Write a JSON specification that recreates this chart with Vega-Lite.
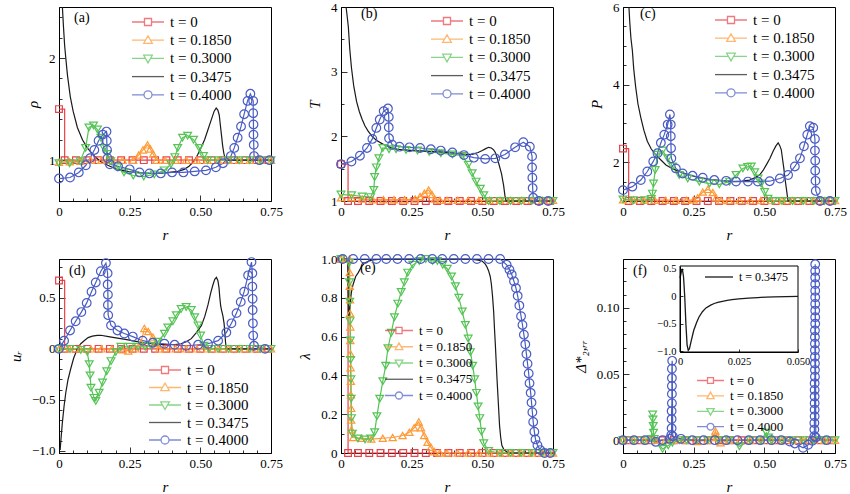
{
  "$schema": "https://vega.github.io/schema/vega-lite/v6.json",
  "background": "white",
  "padding": {"left": 7, "top": 0, "right": 4, "bottom": 0},
  "bounds": "flush",
  "spacing": {"row": 58, "column": 70},
  "columns": 3,
  "config": {
    "view": {"stroke": "black", "strokeWidth": 1},
    "font": "Liberation Serif",
    "title": {"font": "Liberation Serif", "fontSize": 14, "fontWeight": "normal", "color": "black", "anchor": "start", "frame": "group", "offset": 0},
    "axis": {"grid": false, "domainColor": "black", "domainWidth": 1, "tickColor": "black", "tickWidth": 0.8, "labelFont": "Liberation Serif", "labelFontSize": 13, "labelColor": "black", "labelPadding": 10, "labelOverlap": false, "labelBound": false, "labelFlush": false, "titleFont": "Liberation Serif", "titleFontSize": 15, "titleFontStyle": "italic", "titleFontWeight": "normal", "titleColor": "black"},
    "axisX": {"titlePadding": 6},
    "axisY": {"titlePadding": 8},
    "legend": {"padding": 0, "labelFont": "Liberation Serif", "labelColor": "black", "symbolStrokeWidth": 1.3, "labelOffset": 5}
  },
  "datasets": {
    "a": [
      {"s":"0","r":0,"v":1.5},{"s":"0","r":0.02,"v":1},{"s":"0","r":0.06,"v":1},{"s":"0","r":0.1,"v":1},{"s":"0","r":0.14,"v":1},{"s":"0","r":0.18,"v":1},{"s":"0","r":0.22,"v":1},{"s":"0","r":0.26,"v":1},{"s":"0","r":0.3,"v":1},{"s":"0","r":0.34,"v":1},{"s":"0","r":0.38,"v":1},{"s":"0","r":0.42,"v":1},{"s":"0","r":0.46,"v":1},{"s":"0","r":0.5,"v":1},{"s":"0","r":0.54,"v":1},{"s":"0","r":0.58,"v":1},{"s":"0","r":0.62,"v":1},{"s":"0","r":0.66,"v":1},{"s":"0","r":0.7,"v":1},{"s":"0","r":0.74,"v":1},
      {"s":"0.1850","r":0,"v":0.98},{"s":"0.1850","r":0.0375,"v":0.985},{"s":"0.1850","r":0.075,"v":0.99},{"s":"0.1850","r":0.1125,"v":1},{"s":"0.1850","r":0.15,"v":1},{"s":"0.1850","r":0.1875,"v":1},{"s":"0.1850","r":0.225,"v":1},{"s":"0.1850","r":0.2625,"v":1},{"s":"0.1850","r":0.282,"v":1.05},{"s":"0.1850","r":0.297,"v":1.1},{"s":"0.1850","r":0.313,"v":1.15},{"s":"0.1850","r":0.323,"v":1.11},{"s":"0.1850","r":0.333,"v":1.06},{"s":"0.1850","r":0.345,"v":1},{"s":"0.1850","r":0.375,"v":1},{"s":"0.1850","r":0.4125,"v":1},{"s":"0.1850","r":0.45,"v":1},{"s":"0.1850","r":0.4875,"v":1},{"s":"0.1850","r":0.525,"v":1},{"s":"0.1850","r":0.5625,"v":1},{"s":"0.1850","r":0.6,"v":1},{"s":"0.1850","r":0.6375,"v":1},{"s":"0.1850","r":0.675,"v":1},{"s":"0.1850","r":0.7125,"v":1},{"s":"0.1850","r":0.75,"v":1},
      {"s":"0.3000","r":0,"v":0.97},{"s":"0.3000","r":0.0375,"v":0.97},{"s":"0.3000","r":0.075,"v":0.99},{"s":"0.3000","r":0.094,"v":1.12},{"s":"0.3000","r":0.106,"v":1.32},{"s":"0.3000","r":0.122,"v":1.34},{"s":"0.3000","r":0.136,"v":1.3},{"s":"0.3000","r":0.148,"v":1.22},{"s":"0.3000","r":0.159,"v":1.12},{"s":"0.3000","r":0.171,"v":1.06},{"s":"0.3000","r":0.183,"v":0.99},{"s":"0.3000","r":0.207,"v":0.93},{"s":"0.3000","r":0.23,"v":0.88},{"s":"0.3000","r":0.263,"v":0.85},{"s":"0.3000","r":0.3,"v":0.84},{"s":"0.3000","r":0.337,"v":0.86},{"s":"0.3000","r":0.372,"v":0.9},{"s":"0.3000","r":0.396,"v":0.96},{"s":"0.3000","r":0.41,"v":1.03},{"s":"0.3000","r":0.42,"v":1.12},{"s":"0.3000","r":0.437,"v":1.22},{"s":"0.3000","r":0.455,"v":1.24},{"s":"0.3000","r":0.476,"v":1.2},{"s":"0.3000","r":0.496,"v":1.12},{"s":"0.3000","r":0.511,"v":1.04},{"s":"0.3000","r":0.526,"v":1},{"s":"0.3000","r":0.5625,"v":1},{"s":"0.3000","r":0.6,"v":1},{"s":"0.3000","r":0.6375,"v":1},{"s":"0.3000","r":0.675,"v":1},{"s":"0.3000","r":0.7125,"v":1},{"s":"0.3000","r":0.75,"v":1},
      {"s":"0.3475","r":0.012,"v":2.5},{"s":"0.3475","r":0.016,"v":2.3},{"s":"0.3475","r":0.02,"v":2.12},{"s":"0.3475","r":0.024,"v":2},{"s":"0.3475","r":0.03,"v":1.83},{"s":"0.3475","r":0.04,"v":1.62},{"s":"0.3475","r":0.05,"v":1.48},{"s":"0.3475","r":0.065,"v":1.32},{"s":"0.3475","r":0.083,"v":1.2},{"s":"0.3475","r":0.1,"v":1.12},{"s":"0.3475","r":0.125,"v":1.04},{"s":"0.3475","r":0.15,"v":0.98},{"s":"0.3475","r":0.18,"v":0.94},{"s":"0.3475","r":0.207,"v":0.91},{"s":"0.3475","r":0.24,"v":0.89},{"s":"0.3475","r":0.27,"v":0.88},{"s":"0.3475","r":0.3,"v":0.87},{"s":"0.3475","r":0.33,"v":0.87},{"s":"0.3475","r":0.36,"v":0.87},{"s":"0.3475","r":0.39,"v":0.88},{"s":"0.3475","r":0.42,"v":0.89},{"s":"0.3475","r":0.443,"v":0.91},{"s":"0.3475","r":0.46,"v":0.94},{"s":"0.3475","r":0.478,"v":0.99},{"s":"0.3475","r":0.49,"v":1.05},{"s":"0.3475","r":0.502,"v":1.12},{"s":"0.3475","r":0.515,"v":1.2},{"s":"0.3475","r":0.526,"v":1.29},{"s":"0.3475","r":0.538,"v":1.39},{"s":"0.3475","r":0.549,"v":1.48},{"s":"0.3475","r":0.556,"v":1.51},{"s":"0.3475","r":0.562,"v":1.49},{"s":"0.3475","r":0.567,"v":1.44},{"s":"0.3475","r":0.571,"v":1.34},{"s":"0.3475","r":0.575,"v":1.24},{"s":"0.3475","r":0.579,"v":1.14},{"s":"0.3475","r":0.583,"v":1.07},{"s":"0.3475","r":0.587,"v":1.02},{"s":"0.3475","r":0.59,"v":1},{"s":"0.3475","r":0.75,"v":1},
      {"s":"0.4000","r":0,"v":0.82},{"s":"0.4000","r":0.039,"v":0.83},{"s":"0.4000","r":0.07,"v":0.88},{"s":"0.4000","r":0.095,"v":0.95},{"s":"0.4000","r":0.11,"v":1.02},{"s":"0.4000","r":0.125,"v":1.1},{"s":"0.4000","r":0.14,"v":1.19},{"s":"0.4000","r":0.155,"v":1.25},{"s":"0.4000","r":0.168,"v":1.28},{"s":"0.4000","r":0.169,"v":1.19},{"s":"0.4000","r":0.17,"v":1.1},{"s":"0.4000","r":0.172,"v":1.02},{"s":"0.4000","r":0.18,"v":0.96},{"s":"0.4000","r":0.209,"v":0.94},{"s":"0.4000","r":0.25,"v":0.91},{"s":"0.4000","r":0.285,"v":0.88},{"s":"0.4000","r":0.32,"v":0.87},{"s":"0.4000","r":0.36,"v":0.87},{"s":"0.4000","r":0.4,"v":0.88},{"s":"0.4000","r":0.44,"v":0.88},{"s":"0.4000","r":0.48,"v":0.89},{"s":"0.4000","r":0.52,"v":0.9},{"s":"0.4000","r":0.555,"v":0.93},{"s":"0.4000","r":0.58,"v":0.97},{"s":"0.4000","r":0.608,"v":1.04},{"s":"0.4000","r":0.62,"v":1.12},{"s":"0.4000","r":0.632,"v":1.22},{"s":"0.4000","r":0.644,"v":1.33},{"s":"0.4000","r":0.655,"v":1.45},{"s":"0.4000","r":0.667,"v":1.58},{"s":"0.4000","r":0.677,"v":1.65},{"s":"0.4000","r":0.687,"v":1.58},{"s":"0.4000","r":0.687,"v":1.46},{"s":"0.4000","r":0.688,"v":1.35},{"s":"0.4000","r":0.688,"v":1.25},{"s":"0.4000","r":0.689,"v":1.15},{"s":"0.4000","r":0.69,"v":1.04},{"s":"0.4000","r":0.709,"v":1},{"s":"0.4000","r":0.745,"v":1}
    ],
    "b": [
      {"s":"0","r":0,"v":1.57},{"s":"0","r":0.025,"v":1},{"s":"0","r":0.06,"v":1},{"s":"0","r":0.1,"v":1},{"s":"0","r":0.14,"v":1},{"s":"0","r":0.18,"v":1},{"s":"0","r":0.22,"v":1},{"s":"0","r":0.26,"v":1},{"s":"0","r":0.3,"v":1},{"s":"0","r":0.34,"v":1},{"s":"0","r":0.38,"v":1},{"s":"0","r":0.42,"v":1},{"s":"0","r":0.46,"v":1},{"s":"0","r":0.5,"v":1},{"s":"0","r":0.54,"v":1},{"s":"0","r":0.58,"v":1},{"s":"0","r":0.62,"v":1},{"s":"0","r":0.66,"v":1},{"s":"0","r":0.7,"v":1},{"s":"0","r":0.74,"v":1},
      {"s":"0.1850","r":0,"v":1.05},{"s":"0.1850","r":0.0375,"v":1.05},{"s":"0.1850","r":0.075,"v":1.03},{"s":"0.1850","r":0.1125,"v":1.02},{"s":"0.1850","r":0.15,"v":1.02},{"s":"0.1850","r":0.1875,"v":1.02},{"s":"0.1850","r":0.225,"v":1.02},{"s":"0.1850","r":0.2625,"v":1.03},{"s":"0.1850","r":0.28,"v":1.07},{"s":"0.1850","r":0.295,"v":1.12},{"s":"0.1850","r":0.31,"v":1.17},{"s":"0.1850","r":0.322,"v":1.1},{"s":"0.1850","r":0.332,"v":1.03},{"s":"0.1850","r":0.35,"v":1.01},{"s":"0.1850","r":0.375,"v":1.01},{"s":"0.1850","r":0.4125,"v":1.01},{"s":"0.1850","r":0.45,"v":1.01},{"s":"0.1850","r":0.4875,"v":1.01},{"s":"0.1850","r":0.525,"v":1.01},{"s":"0.1850","r":0.5625,"v":1.01},{"s":"0.1850","r":0.6,"v":1.01},{"s":"0.1850","r":0.6375,"v":1.01},{"s":"0.1850","r":0.675,"v":1.01},{"s":"0.1850","r":0.7125,"v":1.01},{"s":"0.1850","r":0.75,"v":1.01},
      {"s":"0.3000","r":0,"v":1.1},{"s":"0.3000","r":0.0375,"v":1.09},{"s":"0.3000","r":0.075,"v":1.07},{"s":"0.3000","r":0.105,"v":1.06},{"s":"0.3000","r":0.116,"v":1.17},{"s":"0.3000","r":0.119,"v":1.37},{"s":"0.3000","r":0.125,"v":1.52},{"s":"0.3000","r":0.134,"v":1.66},{"s":"0.3000","r":0.148,"v":1.82},{"s":"0.3000","r":0.17,"v":1.8},{"s":"0.3000","r":0.195,"v":1.8},{"s":"0.3000","r":0.23,"v":1.79},{"s":"0.3000","r":0.271,"v":1.78},{"s":"0.3000","r":0.312,"v":1.76},{"s":"0.3000","r":0.353,"v":1.74},{"s":"0.3000","r":0.394,"v":1.72},{"s":"0.3000","r":0.43,"v":1.7},{"s":"0.3000","r":0.45,"v":1.56},{"s":"0.3000","r":0.464,"v":1.43},{"s":"0.3000","r":0.478,"v":1.3},{"s":"0.3000","r":0.493,"v":1.19},{"s":"0.3000","r":0.505,"v":1.09},{"s":"0.3000","r":0.522,"v":1},{"s":"0.3000","r":0.5625,"v":1},{"s":"0.3000","r":0.6,"v":1},{"s":"0.3000","r":0.6375,"v":1},{"s":"0.3000","r":0.675,"v":1},{"s":"0.3000","r":0.7125,"v":1},{"s":"0.3000","r":0.75,"v":1},
      {"s":"0.3475","r":0.018,"v":4},{"s":"0.3475","r":0.022,"v":3.85},{"s":"0.3475","r":0.026,"v":3.69},{"s":"0.3475","r":0.031,"v":3.35},{"s":"0.3475","r":0.037,"v":3.06},{"s":"0.3475","r":0.045,"v":2.78},{"s":"0.3475","r":0.055,"v":2.54},{"s":"0.3475","r":0.065,"v":2.38},{"s":"0.3475","r":0.075,"v":2.26},{"s":"0.3475","r":0.085,"v":2.16},{"s":"0.3475","r":0.096,"v":2.08},{"s":"0.3475","r":0.11,"v":2},{"s":"0.3475","r":0.125,"v":1.94},{"s":"0.3475","r":0.148,"v":1.88},{"s":"0.3475","r":0.175,"v":1.83},{"s":"0.3475","r":0.2,"v":1.8},{"s":"0.3475","r":0.25,"v":1.78},{"s":"0.3475","r":0.3,"v":1.77},{"s":"0.3475","r":0.35,"v":1.76},{"s":"0.3475","r":0.4,"v":1.74},{"s":"0.3475","r":0.44,"v":1.72},{"s":"0.3475","r":0.464,"v":1.72},{"s":"0.3475","r":0.485,"v":1.75},{"s":"0.3475","r":0.5,"v":1.78},{"s":"0.3475","r":0.512,"v":1.81},{"s":"0.3475","r":0.522,"v":1.83},{"s":"0.3475","r":0.532,"v":1.82},{"s":"0.3475","r":0.54,"v":1.79},{"s":"0.3475","r":0.546,"v":1.75},{"s":"0.3475","r":0.553,"v":1.66},{"s":"0.3475","r":0.558,"v":1.58},{"s":"0.3475","r":0.563,"v":1.5},{"s":"0.3475","r":0.568,"v":1.42},{"s":"0.3475","r":0.572,"v":1.32},{"s":"0.3475","r":0.575,"v":1.25},{"s":"0.3475","r":0.578,"v":1.15},{"s":"0.3475","r":0.58,"v":1.08},{"s":"0.3475","r":0.584,"v":1},{"s":"0.3475","r":0.75,"v":1},
      {"s":"0.4000","r":0,"v":1.57},{"s":"0.4000","r":0.037,"v":1.61},{"s":"0.4000","r":0.067,"v":1.7},{"s":"0.4000","r":0.092,"v":1.82},{"s":"0.4000","r":0.111,"v":1.96},{"s":"0.4000","r":0.125,"v":2.13},{"s":"0.4000","r":0.137,"v":2.26},{"s":"0.4000","r":0.151,"v":2.39},{"s":"0.4000","r":0.166,"v":2.43},{"s":"0.4000","r":0.169,"v":2.3},{"s":"0.4000","r":0.169,"v":2.14},{"s":"0.4000","r":0.17,"v":1.97},{"s":"0.4000","r":0.181,"v":1.87},{"s":"0.4000","r":0.207,"v":1.84},{"s":"0.4000","r":0.242,"v":1.83},{"s":"0.4000","r":0.28,"v":1.82},{"s":"0.4000","r":0.318,"v":1.8},{"s":"0.4000","r":0.353,"v":1.78},{"s":"0.4000","r":0.394,"v":1.75},{"s":"0.4000","r":0.435,"v":1.71},{"s":"0.4000","r":0.47,"v":1.67},{"s":"0.4000","r":0.51,"v":1.65},{"s":"0.4000","r":0.546,"v":1.66},{"s":"0.4000","r":0.58,"v":1.72},{"s":"0.4000","r":0.616,"v":1.83},{"s":"0.4000","r":0.645,"v":1.91},{"s":"0.4000","r":0.668,"v":1.84},{"s":"0.4000","r":0.676,"v":1.69},{"s":"0.4000","r":0.676,"v":1.52},{"s":"0.4000","r":0.677,"v":1.36},{"s":"0.4000","r":0.678,"v":1.2},{"s":"0.4000","r":0.68,"v":1.05},{"s":"0.4000","r":0.7,"v":1},{"s":"0.4000","r":0.733,"v":1}
    ],
    "c": [
      {"s":"0","r":0,"v":2.35},{"s":"0","r":0.02,"v":1},{"s":"0","r":0.06,"v":1},{"s":"0","r":0.1,"v":1},{"s":"0","r":0.14,"v":1},{"s":"0","r":0.18,"v":1},{"s":"0","r":0.22,"v":1},{"s":"0","r":0.26,"v":1},{"s":"0","r":0.3,"v":1},{"s":"0","r":0.34,"v":1},{"s":"0","r":0.38,"v":1},{"s":"0","r":0.42,"v":1},{"s":"0","r":0.46,"v":1},{"s":"0","r":0.5,"v":1},{"s":"0","r":0.54,"v":1},{"s":"0","r":0.58,"v":1},{"s":"0","r":0.62,"v":1},{"s":"0","r":0.66,"v":1},{"s":"0","r":0.7,"v":1},{"s":"0","r":0.74,"v":1},
      {"s":"0.1850","r":0,"v":1.03},{"s":"0.1850","r":0.0375,"v":1.03},{"s":"0.1850","r":0.075,"v":1.02},{"s":"0.1850","r":0.1125,"v":1.02},{"s":"0.1850","r":0.15,"v":1.02},{"s":"0.1850","r":0.1875,"v":1.02},{"s":"0.1850","r":0.225,"v":1.02},{"s":"0.1850","r":0.25,"v":1.03},{"s":"0.1850","r":0.264,"v":1.08},{"s":"0.1850","r":0.282,"v":1.23},{"s":"0.1850","r":0.3,"v":1.3},{"s":"0.1850","r":0.318,"v":1.22},{"s":"0.1850","r":0.329,"v":1.08},{"s":"0.1850","r":0.347,"v":1.01},{"s":"0.1850","r":0.375,"v":1.01},{"s":"0.1850","r":0.4125,"v":1.01},{"s":"0.1850","r":0.45,"v":1.01},{"s":"0.1850","r":0.4875,"v":1.01},{"s":"0.1850","r":0.525,"v":1.01},{"s":"0.1850","r":0.5625,"v":1.01},{"s":"0.1850","r":0.6,"v":1.01},{"s":"0.1850","r":0.6375,"v":1.01},{"s":"0.1850","r":0.675,"v":1.01},{"s":"0.1850","r":0.7125,"v":1.01},{"s":"0.1850","r":0.75,"v":1.01},
      {"s":"0.3000","r":0,"v":1.04},{"s":"0.3000","r":0.0375,"v":1.02},{"s":"0.3000","r":0.075,"v":1.02},{"s":"0.3000","r":0.1,"v":1.05},{"s":"0.3000","r":0.104,"v":1.19},{"s":"0.3000","r":0.108,"v":1.45},{"s":"0.3000","r":0.114,"v":1.8},{"s":"0.3000","r":0.122,"v":2.19},{"s":"0.3000","r":0.14,"v":2.3},{"s":"0.3000","r":0.158,"v":2.1},{"s":"0.3000","r":0.175,"v":1.89},{"s":"0.3000","r":0.199,"v":1.67},{"s":"0.3000","r":0.229,"v":1.58},{"s":"0.3000","r":0.27,"v":1.5},{"s":"0.3000","r":0.306,"v":1.45},{"s":"0.3000","r":0.341,"v":1.43},{"s":"0.3000","r":0.377,"v":1.5},{"s":"0.3000","r":0.4,"v":1.67},{"s":"0.3000","r":0.424,"v":1.84},{"s":"0.3000","r":0.441,"v":1.88},{"s":"0.3000","r":0.454,"v":1.89},{"s":"0.3000","r":0.466,"v":1.74},{"s":"0.3000","r":0.478,"v":1.58},{"s":"0.3000","r":0.489,"v":1.45},{"s":"0.3000","r":0.501,"v":1.23},{"s":"0.3000","r":0.513,"v":1.06},{"s":"0.3000","r":0.531,"v":1},{"s":"0.3000","r":0.5625,"v":1},{"s":"0.3000","r":0.6,"v":1},{"s":"0.3000","r":0.6375,"v":1},{"s":"0.3000","r":0.675,"v":1},{"s":"0.3000","r":0.7125,"v":1},{"s":"0.3000","r":0.75,"v":1},
      {"s":"0.3475","r":0.021,"v":6},{"s":"0.3475","r":0.024,"v":5.6},{"s":"0.3475","r":0.028,"v":5.2},{"s":"0.3475","r":0.033,"v":4.89},{"s":"0.3475","r":0.038,"v":4.4},{"s":"0.3475","r":0.045,"v":3.93},{"s":"0.3475","r":0.053,"v":3.5},{"s":"0.3475","r":0.063,"v":3.15},{"s":"0.3475","r":0.074,"v":2.82},{"s":"0.3475","r":0.086,"v":2.54},{"s":"0.3475","r":0.1,"v":2.34},{"s":"0.3475","r":0.116,"v":2.19},{"s":"0.3475","r":0.135,"v":2.05},{"s":"0.3475","r":0.152,"v":1.93},{"s":"0.3475","r":0.175,"v":1.83},{"s":"0.3475","r":0.199,"v":1.76},{"s":"0.3475","r":0.235,"v":1.67},{"s":"0.3475","r":0.27,"v":1.6},{"s":"0.3475","r":0.3,"v":1.56},{"s":"0.3475","r":0.33,"v":1.54},{"s":"0.3475","r":0.36,"v":1.52},{"s":"0.3475","r":0.389,"v":1.5},{"s":"0.3475","r":0.42,"v":1.51},{"s":"0.3475","r":0.448,"v":1.54},{"s":"0.3475","r":0.466,"v":1.6},{"s":"0.3475","r":0.483,"v":1.67},{"s":"0.3475","r":0.495,"v":1.78},{"s":"0.3475","r":0.507,"v":1.93},{"s":"0.3475","r":0.52,"v":2.1},{"s":"0.3475","r":0.531,"v":2.28},{"s":"0.3475","r":0.541,"v":2.42},{"s":"0.3475","r":0.549,"v":2.5},{"s":"0.3475","r":0.555,"v":2.42},{"s":"0.3475","r":0.56,"v":2.32},{"s":"0.3475","r":0.565,"v":2.05},{"s":"0.3475","r":0.569,"v":1.84},{"s":"0.3475","r":0.573,"v":1.58},{"s":"0.3475","r":0.578,"v":1.32},{"s":"0.3475","r":0.581,"v":1.15},{"s":"0.3475","r":0.584,"v":1},{"s":"0.3475","r":0.75,"v":1},
      {"s":"0.4000","r":0,"v":1.28},{"s":"0.4000","r":0.033,"v":1.37},{"s":"0.4000","r":0.063,"v":1.54},{"s":"0.4000","r":0.086,"v":1.76},{"s":"0.4000","r":0.107,"v":2.02},{"s":"0.4000","r":0.122,"v":2.23},{"s":"0.4000","r":0.134,"v":2.5},{"s":"0.4000","r":0.146,"v":2.71},{"s":"0.4000","r":0.158,"v":2.97},{"s":"0.4000","r":0.166,"v":3.23},{"s":"0.4000","r":0.169,"v":2.97},{"s":"0.4000","r":0.169,"v":2.67},{"s":"0.4000","r":0.17,"v":2.36},{"s":"0.4000","r":0.171,"v":2.1},{"s":"0.4000","r":0.187,"v":1.84},{"s":"0.4000","r":0.211,"v":1.71},{"s":"0.4000","r":0.246,"v":1.65},{"s":"0.4000","r":0.282,"v":1.6},{"s":"0.4000","r":0.323,"v":1.54},{"s":"0.4000","r":0.365,"v":1.52},{"s":"0.4000","r":0.4,"v":1.5},{"s":"0.4000","r":0.442,"v":1.5},{"s":"0.4000","r":0.477,"v":1.5},{"s":"0.4000","r":0.519,"v":1.51},{"s":"0.4000","r":0.555,"v":1.58},{"s":"0.4000","r":0.584,"v":1.67},{"s":"0.4000","r":0.608,"v":1.89},{"s":"0.4000","r":0.626,"v":2.1},{"s":"0.4000","r":0.64,"v":2.41},{"s":"0.4000","r":0.652,"v":2.71},{"s":"0.4000","r":0.661,"v":2.93},{"s":"0.4000","r":0.673,"v":2.89},{"s":"0.4000","r":0.679,"v":2.6},{"s":"0.4000","r":0.679,"v":2.3},{"s":"0.4000","r":0.68,"v":2.04},{"s":"0.4000","r":0.68,"v":1.78},{"s":"0.4000","r":0.681,"v":1.52},{"s":"0.4000","r":0.682,"v":1.26},{"s":"0.4000","r":0.697,"v":1},{"s":"0.4000","r":0.732,"v":1}
    ],
    "d": [
      {"s":"0","r":0,"v":0.67},{"s":"0","r":0.02,"v":0},{"s":"0","r":0.06,"v":0},{"s":"0","r":0.1,"v":0},{"s":"0","r":0.14,"v":0},{"s":"0","r":0.18,"v":0},{"s":"0","r":0.22,"v":0},{"s":"0","r":0.26,"v":0},{"s":"0","r":0.3,"v":0},{"s":"0","r":0.34,"v":0},{"s":"0","r":0.38,"v":0},{"s":"0","r":0.42,"v":0},{"s":"0","r":0.46,"v":0},{"s":"0","r":0.5,"v":0},{"s":"0","r":0.54,"v":0},{"s":"0","r":0.58,"v":0},{"s":"0","r":0.62,"v":0},{"s":"0","r":0.66,"v":0},{"s":"0","r":0.7,"v":0},{"s":"0","r":0.74,"v":0},
      {"s":"0.1850","r":0,"v":0},{"s":"0.1850","r":0.0375,"v":0},{"s":"0.1850","r":0.075,"v":0},{"s":"0.1850","r":0.1125,"v":0},{"s":"0.1850","r":0.15,"v":0},{"s":"0.1850","r":0.1875,"v":0},{"s":"0.1850","r":0.225,"v":-0.01},{"s":"0.1850","r":0.245,"v":-0.02},{"s":"0.1850","r":0.27,"v":0},{"s":"0.1850","r":0.29,"v":0.06},{"s":"0.1850","r":0.302,"v":0.2},{"s":"0.1850","r":0.316,"v":0.17},{"s":"0.1850","r":0.332,"v":0.115},{"s":"0.1850","r":0.342,"v":0.05},{"s":"0.1850","r":0.355,"v":0},{"s":"0.1850","r":0.375,"v":0},{"s":"0.1850","r":0.4125,"v":0},{"s":"0.1850","r":0.45,"v":0},{"s":"0.1850","r":0.4875,"v":0},{"s":"0.1850","r":0.525,"v":0},{"s":"0.1850","r":0.5625,"v":0},{"s":"0.1850","r":0.6,"v":0},{"s":"0.1850","r":0.6375,"v":0},{"s":"0.1850","r":0.675,"v":0},{"s":"0.1850","r":0.7125,"v":0},{"s":"0.1850","r":0.75,"v":0},
      {"s":"0.3000","r":0,"v":0},{"s":"0.3000","r":0.039,"v":0},{"s":"0.3000","r":0.077,"v":-0.01},{"s":"0.3000","r":0.1,"v":-0.03},{"s":"0.3000","r":0.107,"v":-0.15},{"s":"0.3000","r":0.11,"v":-0.26},{"s":"0.3000","r":0.113,"v":-0.38},{"s":"0.3000","r":0.124,"v":-0.48},{"s":"0.3000","r":0.13,"v":-0.51},{"s":"0.3000","r":0.142,"v":-0.43},{"s":"0.3000","r":0.154,"v":-0.33},{"s":"0.3000","r":0.169,"v":-0.22},{"s":"0.3000","r":0.184,"v":-0.12},{"s":"0.3000","r":0.201,"v":-0.03},{"s":"0.3000","r":0.219,"v":0.02},{"s":"0.3000","r":0.25,"v":0.02},{"s":"0.3000","r":0.28,"v":0.02},{"s":"0.3000","r":0.305,"v":0.02},{"s":"0.3000","r":0.326,"v":0.03},{"s":"0.3000","r":0.35,"v":0.07},{"s":"0.3000","r":0.373,"v":0.148},{"s":"0.3000","r":0.385,"v":0.21},{"s":"0.3000","r":0.403,"v":0.27},{"s":"0.3000","r":0.415,"v":0.33},{"s":"0.3000","r":0.432,"v":0.39},{"s":"0.3000","r":0.45,"v":0.41},{"s":"0.3000","r":0.468,"v":0.38},{"s":"0.3000","r":0.48,"v":0.31},{"s":"0.3000","r":0.492,"v":0.23},{"s":"0.3000","r":0.501,"v":0.13},{"s":"0.3000","r":0.513,"v":0.03},{"s":"0.3000","r":0.53,"v":0},{"s":"0.3000","r":0.5625,"v":0},{"s":"0.3000","r":0.6,"v":0},{"s":"0.3000","r":0.6375,"v":0},{"s":"0.3000","r":0.675,"v":0},{"s":"0.3000","r":0.7125,"v":0},{"s":"0.3000","r":0.75,"v":0},
      {"s":"0.3475","r":0.004,"v":-0.99},{"s":"0.3475","r":0.008,"v":-0.85},{"s":"0.3475","r":0.012,"v":-0.72},{"s":"0.3475","r":0.018,"v":-0.56},{"s":"0.3475","r":0.024,"v":-0.43},{"s":"0.3475","r":0.032,"v":-0.3},{"s":"0.3475","r":0.041,"v":-0.2},{"s":"0.3475","r":0.052,"v":-0.09},{"s":"0.3475","r":0.065,"v":0},{"s":"0.3475","r":0.077,"v":0.05},{"s":"0.3475","r":0.089,"v":0.08},{"s":"0.3475","r":0.103,"v":0.11},{"s":"0.3475","r":0.118,"v":0.125},{"s":"0.3475","r":0.135,"v":0.132},{"s":"0.3475","r":0.148,"v":0.133},{"s":"0.3475","r":0.175,"v":0.12},{"s":"0.3475","r":0.207,"v":0.105},{"s":"0.3475","r":0.24,"v":0.09},{"s":"0.3475","r":0.267,"v":0.076},{"s":"0.3475","r":0.3,"v":0.06},{"s":"0.3475","r":0.326,"v":0.05},{"s":"0.3475","r":0.36,"v":0.044},{"s":"0.3475","r":0.385,"v":0.04},{"s":"0.3475","r":0.41,"v":0.042},{"s":"0.3475","r":0.432,"v":0.05},{"s":"0.3475","r":0.45,"v":0.07},{"s":"0.3475","r":0.468,"v":0.1},{"s":"0.3475","r":0.486,"v":0.16},{"s":"0.3475","r":0.504,"v":0.23},{"s":"0.3475","r":0.516,"v":0.32},{"s":"0.3475","r":0.527,"v":0.43},{"s":"0.3475","r":0.537,"v":0.55},{"s":"0.3475","r":0.545,"v":0.63},{"s":"0.3475","r":0.551,"v":0.68},{"s":"0.3475","r":0.557,"v":0.7},{"s":"0.3475","r":0.562,"v":0.67},{"s":"0.3475","r":0.566,"v":0.6},{"s":"0.3475","r":0.569,"v":0.5},{"s":"0.3475","r":0.572,"v":0.42},{"s":"0.3475","r":0.575,"v":0.38},{"s":"0.3475","r":0.58,"v":0.32},{"s":"0.3475","r":0.584,"v":0.25},{"s":"0.3475","r":0.587,"v":0.15},{"s":"0.3475","r":0.589,"v":0.07},{"s":"0.3475","r":0.592,"v":0},{"s":"0.3475","r":0.75,"v":0},
      {"s":"0.4000","r":0,"v":0},{"s":"0.4000","r":0.018,"v":0.08},{"s":"0.4000","r":0.039,"v":0.18},{"s":"0.4000","r":0.059,"v":0.27},{"s":"0.4000","r":0.079,"v":0.36},{"s":"0.4000","r":0.098,"v":0.45},{"s":"0.4000","r":0.115,"v":0.56},{"s":"0.4000","r":0.13,"v":0.65},{"s":"0.4000","r":0.148,"v":0.76},{"s":"0.4000","r":0.166,"v":0.84},{"s":"0.4000","r":0.172,"v":0.74},{"s":"0.4000","r":0.172,"v":0.63},{"s":"0.4000","r":0.173,"v":0.53},{"s":"0.4000","r":0.173,"v":0.43},{"s":"0.4000","r":0.174,"v":0.33},{"s":"0.4000","r":0.184,"v":0.23},{"s":"0.4000","r":0.207,"v":0.18},{"s":"0.4000","r":0.231,"v":0.15},{"s":"0.4000","r":0.261,"v":0.12},{"s":"0.4000","r":0.296,"v":0.08},{"s":"0.4000","r":0.332,"v":0.06},{"s":"0.4000","r":0.373,"v":0.05},{"s":"0.4000","r":0.409,"v":0.04},{"s":"0.4000","r":0.45,"v":0.03},{"s":"0.4000","r":0.492,"v":0.04},{"s":"0.4000","r":0.527,"v":0.05},{"s":"0.4000","r":0.563,"v":0.08},{"s":"0.4000","r":0.592,"v":0.16},{"s":"0.4000","r":0.61,"v":0.25},{"s":"0.4000","r":0.628,"v":0.35},{"s":"0.4000","r":0.643,"v":0.46},{"s":"0.4000","r":0.655,"v":0.56},{"s":"0.4000","r":0.669,"v":0.72},{"s":"0.4000","r":0.681,"v":0.85},{"s":"0.4000","r":0.684,"v":0.74},{"s":"0.4000","r":0.684,"v":0.61},{"s":"0.4000","r":0.685,"v":0.49},{"s":"0.4000","r":0.685,"v":0.38},{"s":"0.4000","r":0.686,"v":0.25},{"s":"0.4000","r":0.687,"v":0.13},{"s":"0.4000","r":0.69,"v":0.03},{"s":"0.4000","r":0.729,"v":0}
    ],
    "e": [
      {"s":"0","r":0,"v":1},{"s":"0","r":0.025,"v":0},{"s":"0","r":0.06,"v":0},{"s":"0","r":0.1,"v":0},{"s":"0","r":0.14,"v":0},{"s":"0","r":0.18,"v":0},{"s":"0","r":0.22,"v":0},{"s":"0","r":0.26,"v":0},{"s":"0","r":0.3,"v":0},{"s":"0","r":0.34,"v":0},{"s":"0","r":0.38,"v":0},{"s":"0","r":0.42,"v":0},{"s":"0","r":0.46,"v":0},{"s":"0","r":0.5,"v":0},{"s":"0","r":0.54,"v":0},{"s":"0","r":0.58,"v":0},{"s":"0","r":0.62,"v":0},{"s":"0","r":0.66,"v":0},{"s":"0","r":0.7,"v":0},{"s":"0","r":0.74,"v":0},
      {"s":"0.1850","r":0,"v":1},{"s":"0.1850","r":0.03,"v":1},{"s":"0.1850","r":0.031,"v":0.93},{"s":"0.1850","r":0.031,"v":0.86},{"s":"0.1850","r":0.032,"v":0.79},{"s":"0.1850","r":0.032,"v":0.72},{"s":"0.1850","r":0.033,"v":0.65},{"s":"0.1850","r":0.033,"v":0.58},{"s":"0.1850","r":0.034,"v":0.51},{"s":"0.1850","r":0.034,"v":0.44},{"s":"0.1850","r":0.035,"v":0.37},{"s":"0.1850","r":0.035,"v":0.3},{"s":"0.1850","r":0.036,"v":0.23},{"s":"0.1850","r":0.036,"v":0.17},{"s":"0.1850","r":0.037,"v":0.12},{"s":"0.1850","r":0.043,"v":0.08},{"s":"0.1850","r":0.072,"v":0.076},{"s":"0.1850","r":0.107,"v":0.072},{"s":"0.1850","r":0.148,"v":0.076},{"s":"0.1850","r":0.183,"v":0.08},{"s":"0.1850","r":0.218,"v":0.09},{"s":"0.1850","r":0.242,"v":0.107},{"s":"0.1850","r":0.259,"v":0.13},{"s":"0.1850","r":0.275,"v":0.16},{"s":"0.1850","r":0.283,"v":0.13},{"s":"0.1850","r":0.294,"v":0.09},{"s":"0.1850","r":0.306,"v":0.055},{"s":"0.1850","r":0.318,"v":0.03},{"s":"0.1850","r":0.33,"v":0.007},{"s":"0.1850","r":0.35,"v":0},{"s":"0.1850","r":0.375,"v":0},{"s":"0.1850","r":0.4125,"v":0},{"s":"0.1850","r":0.45,"v":0},{"s":"0.1850","r":0.4875,"v":0},{"s":"0.1850","r":0.525,"v":0},{"s":"0.1850","r":0.5625,"v":0},{"s":"0.1850","r":0.6,"v":0},{"s":"0.1850","r":0.6375,"v":0},{"s":"0.1850","r":0.675,"v":0},{"s":"0.1850","r":0.7125,"v":0},{"s":"0.1850","r":0.75,"v":0},
      {"s":"0.3000","r":0,"v":1},{"s":"0.3000","r":0.029,"v":0.98},{"s":"0.3000","r":0.03,"v":0.88},{"s":"0.3000","r":0.031,"v":0.78},{"s":"0.3000","r":0.032,"v":0.68},{"s":"0.3000","r":0.033,"v":0.58},{"s":"0.3000","r":0.034,"v":0.48},{"s":"0.3000","r":0.035,"v":0.38},{"s":"0.3000","r":0.036,"v":0.28},{"s":"0.3000","r":0.037,"v":0.18},{"s":"0.3000","r":0.04,"v":0.1},{"s":"0.3000","r":0.06,"v":0.075},{"s":"0.3000","r":0.085,"v":0.07},{"s":"0.3000","r":0.105,"v":0.075},{"s":"0.3000","r":0.119,"v":0.107},{"s":"0.3000","r":0.127,"v":0.19},{"s":"0.3000","r":0.137,"v":0.28},{"s":"0.3000","r":0.148,"v":0.37},{"s":"0.3000","r":0.158,"v":0.45},{"s":"0.3000","r":0.166,"v":0.54},{"s":"0.3000","r":0.178,"v":0.62},{"s":"0.3000","r":0.189,"v":0.7},{"s":"0.3000","r":0.201,"v":0.77},{"s":"0.3000","r":0.213,"v":0.83},{"s":"0.3000","r":0.224,"v":0.88},{"s":"0.3000","r":0.236,"v":0.93},{"s":"0.3000","r":0.254,"v":0.97},{"s":"0.3000","r":0.277,"v":0.99},{"s":"0.3000","r":0.3,"v":1},{"s":"0.3000","r":0.324,"v":0.99},{"s":"0.3000","r":0.341,"v":0.99},{"s":"0.3000","r":0.36,"v":0.97},{"s":"0.3000","r":0.376,"v":0.95},{"s":"0.3000","r":0.391,"v":0.91},{"s":"0.3000","r":0.405,"v":0.86},{"s":"0.3000","r":0.417,"v":0.8},{"s":"0.3000","r":0.429,"v":0.73},{"s":"0.3000","r":0.44,"v":0.66},{"s":"0.3000","r":0.45,"v":0.59},{"s":"0.3000","r":0.458,"v":0.52},{"s":"0.3000","r":0.466,"v":0.45},{"s":"0.3000","r":0.473,"v":0.38},{"s":"0.3000","r":0.479,"v":0.31},{"s":"0.3000","r":0.485,"v":0.24},{"s":"0.3000","r":0.491,"v":0.18},{"s":"0.3000","r":0.497,"v":0.11},{"s":"0.3000","r":0.505,"v":0.05},{"s":"0.3000","r":0.522,"v":0.01},{"s":"0.3000","r":0.5625,"v":0},{"s":"0.3000","r":0.6,"v":0},{"s":"0.3000","r":0.6375,"v":0},{"s":"0.3000","r":0.675,"v":0},{"s":"0.3000","r":0.7125,"v":0},{"s":"0.3000","r":0.75,"v":0},
      {"s":"0.3475","r":0,"v":1},{"s":"0.3475","r":0.024,"v":1},{"s":"0.3475","r":0.025,"v":0.85},{"s":"0.3475","r":0.026,"v":0.72},{"s":"0.3475","r":0.028,"v":0.7},{"s":"0.3475","r":0.032,"v":0.77},{"s":"0.3475","r":0.037,"v":0.83},{"s":"0.3475","r":0.043,"v":0.87},{"s":"0.3475","r":0.052,"v":0.91},{"s":"0.3475","r":0.061,"v":0.93},{"s":"0.3475","r":0.072,"v":0.96},{"s":"0.3475","r":0.084,"v":0.98},{"s":"0.3475","r":0.1,"v":0.99},{"s":"0.3475","r":0.113,"v":0.995},{"s":"0.3475","r":0.15,"v":1},{"s":"0.3475","r":0.45,"v":1},{"s":"0.3475","r":0.48,"v":0.995},{"s":"0.3475","r":0.499,"v":0.99},{"s":"0.3475","r":0.51,"v":0.975},{"s":"0.3475","r":0.516,"v":0.96},{"s":"0.3475","r":0.522,"v":0.94},{"s":"0.3475","r":0.528,"v":0.91},{"s":"0.3475","r":0.532,"v":0.87},{"s":"0.3475","r":0.536,"v":0.81},{"s":"0.3475","r":0.54,"v":0.73},{"s":"0.3475","r":0.543,"v":0.64},{"s":"0.3475","r":0.546,"v":0.56},{"s":"0.3475","r":0.549,"v":0.47},{"s":"0.3475","r":0.552,"v":0.38},{"s":"0.3475","r":0.555,"v":0.3},{"s":"0.3475","r":0.558,"v":0.22},{"s":"0.3475","r":0.561,"v":0.14},{"s":"0.3475","r":0.565,"v":0.08},{"s":"0.3475","r":0.569,"v":0.04},{"s":"0.3475","r":0.577,"v":0.015},{"s":"0.3475","r":0.586,"v":0.007},{"s":"0.3475","r":0.6,"v":0},{"s":"0.3475","r":0.75,"v":0},
      {"s":"0.4000","r":0.006,"v":1},{"s":"0.4000","r":0.043,"v":1},{"s":"0.4000","r":0.084,"v":1},{"s":"0.4000","r":0.125,"v":1},{"s":"0.4000","r":0.16,"v":1},{"s":"0.4000","r":0.2,"v":1},{"s":"0.4000","r":0.241,"v":1},{"s":"0.4000","r":0.282,"v":1},{"s":"0.4000","r":0.323,"v":1},{"s":"0.4000","r":0.358,"v":1},{"s":"0.4000","r":0.399,"v":1},{"s":"0.4000","r":0.44,"v":1},{"s":"0.4000","r":0.481,"v":1},{"s":"0.4000","r":0.522,"v":1},{"s":"0.4000","r":0.563,"v":1},{"s":"0.4000","r":0.586,"v":0.97},{"s":"0.4000","r":0.596,"v":0.945},{"s":"0.4000","r":0.604,"v":0.92},{"s":"0.4000","r":0.612,"v":0.885},{"s":"0.4000","r":0.619,"v":0.85},{"s":"0.4000","r":0.625,"v":0.81},{"s":"0.4000","r":0.631,"v":0.76},{"s":"0.4000","r":0.637,"v":0.705},{"s":"0.4000","r":0.642,"v":0.66},{"s":"0.4000","r":0.647,"v":0.61},{"s":"0.4000","r":0.652,"v":0.56},{"s":"0.4000","r":0.656,"v":0.51},{"s":"0.4000","r":0.66,"v":0.46},{"s":"0.4000","r":0.664,"v":0.41},{"s":"0.4000","r":0.667,"v":0.36},{"s":"0.4000","r":0.671,"v":0.31},{"s":"0.4000","r":0.674,"v":0.26},{"s":"0.4000","r":0.677,"v":0.21},{"s":"0.4000","r":0.68,"v":0.16},{"s":"0.4000","r":0.684,"v":0.11},{"s":"0.4000","r":0.688,"v":0.07},{"s":"0.4000","r":0.695,"v":0.04},{"s":"0.4000","r":0.705,"v":0.015},{"s":"0.4000","r":0.72,"v":0},{"s":"0.4000","r":0.74,"v":0}
    ],
    "f": [
      {"s":"0","r":0,"v":0},{"s":"0","r":0.02,"v":0},{"s":"0","r":0.06,"v":0},{"s":"0","r":0.1,"v":0},{"s":"0","r":0.14,"v":0},{"s":"0","r":0.18,"v":0},{"s":"0","r":0.22,"v":0},{"s":"0","r":0.26,"v":0},{"s":"0","r":0.3,"v":0},{"s":"0","r":0.34,"v":0},{"s":"0","r":0.38,"v":0},{"s":"0","r":0.42,"v":0},{"s":"0","r":0.46,"v":0},{"s":"0","r":0.5,"v":0},{"s":"0","r":0.54,"v":0},{"s":"0","r":0.58,"v":0},{"s":"0","r":0.62,"v":0},{"s":"0","r":0.66,"v":0},{"s":"0","r":0.7,"v":0},{"s":"0","r":0.74,"v":0},
      {"s":"0.1850","r":0,"v":0},{"s":"0.1850","r":0.0375,"v":0},{"s":"0.1850","r":0.075,"v":0},{"s":"0.1850","r":0.1125,"v":0},{"s":"0.1850","r":0.15,"v":0},{"s":"0.1850","r":0.1875,"v":0},{"s":"0.1850","r":0.225,"v":0},{"s":"0.1850","r":0.2625,"v":-0.001},{"s":"0.1850","r":0.3,"v":0},{"s":"0.1850","r":0.318,"v":0.002},{"s":"0.1850","r":0.327,"v":0.0069},{"s":"0.1850","r":0.333,"v":0.003},{"s":"0.1850","r":0.345,"v":-0.002},{"s":"0.1850","r":0.375,"v":0},{"s":"0.1850","r":0.4125,"v":0},{"s":"0.1850","r":0.45,"v":0},{"s":"0.1850","r":0.4875,"v":0},{"s":"0.1850","r":0.525,"v":0},{"s":"0.1850","r":0.5625,"v":0},{"s":"0.1850","r":0.6,"v":0},{"s":"0.1850","r":0.6375,"v":0},{"s":"0.1850","r":0.675,"v":0},{"s":"0.1850","r":0.7125,"v":0},{"s":"0.1850","r":0.75,"v":0},
      {"s":"0.3000","r":0,"v":0},{"s":"0.3000","r":0.0375,"v":0},{"s":"0.3000","r":0.075,"v":0},{"s":"0.3000","r":0.1,"v":0.001},{"s":"0.3000","r":0.105,"v":0.0195},{"s":"0.3000","r":0.106,"v":0.0157},{"s":"0.3000","r":0.107,"v":0.0107},{"s":"0.3000","r":0.108,"v":0.0056},{"s":"0.3000","r":0.11,"v":0.001},{"s":"0.3000","r":0.14,"v":-0.0066},{"s":"0.3000","r":0.16,"v":-0.004},{"s":"0.3000","r":0.175,"v":-0.002},{"s":"0.3000","r":0.2,"v":0},{"s":"0.3000","r":0.225,"v":0},{"s":"0.3000","r":0.2625,"v":0},{"s":"0.3000","r":0.3,"v":0},{"s":"0.3000","r":0.3375,"v":0},{"s":"0.3000","r":0.375,"v":0},{"s":"0.3000","r":0.412,"v":-0.0046},{"s":"0.3000","r":0.45,"v":0},{"s":"0.3000","r":0.4875,"v":0},{"s":"0.3000","r":0.507,"v":0.0056},{"s":"0.3000","r":0.515,"v":0.002},{"s":"0.3000","r":0.525,"v":0},{"s":"0.3000","r":0.5625,"v":0},{"s":"0.3000","r":0.6,"v":0},{"s":"0.3000","r":0.6375,"v":0},{"s":"0.3000","r":0.675,"v":0},{"s":"0.3000","r":0.7125,"v":0},{"s":"0.3000","r":0.75,"v":0},
      {"s":"0.4000","r":0,"v":0},{"s":"0.4000","r":0.039,"v":0},{"s":"0.4000","r":0.078,"v":0},{"s":"0.4000","r":0.116,"v":-0.0013},{"s":"0.4000","r":0.14,"v":0},{"s":"0.4000","r":0.165,"v":0.001},{"s":"0.4000","r":0.171,"v":0.004},{"s":"0.4000","r":0.172,"v":0.009},{"s":"0.4000","r":0.172,"v":0.016},{"s":"0.4000","r":0.172,"v":0.022},{"s":"0.4000","r":0.173,"v":0.028},{"s":"0.4000","r":0.173,"v":0.035},{"s":"0.4000","r":0.173,"v":0.041},{"s":"0.4000","r":0.173,"v":0.047},{"s":"0.4000","r":0.173,"v":0.054},{"s":"0.4000","r":0.174,"v":0.06},{"s":"0.4000","r":0.176,"v":0.003},{"s":"0.4000","r":0.205,"v":0.001},{"s":"0.4000","r":0.245,"v":0},{"s":"0.4000","r":0.285,"v":0},{"s":"0.4000","r":0.325,"v":0},{"s":"0.4000","r":0.365,"v":0},{"s":"0.4000","r":0.405,"v":0},{"s":"0.4000","r":0.445,"v":0},{"s":"0.4000","r":0.485,"v":0},{"s":"0.4000","r":0.525,"v":0},{"s":"0.4000","r":0.56,"v":0},{"s":"0.4000","r":0.59,"v":-0.001},{"s":"0.4000","r":0.608,"v":-0.0025},{"s":"0.4000","r":0.637,"v":-0.0058},{"s":"0.4000","r":0.655,"v":-0.0035},{"s":"0.4000","r":0.67,"v":-0.0005},{"s":"0.4000","r":0.677,"v":0.003},{"s":"0.4000","r":0.677,"v":0.008},{"s":"0.4000","r":0.677,"v":0.013},{"s":"0.4000","r":0.678,"v":0.018},{"s":"0.4000","r":0.678,"v":0.023},{"s":"0.4000","r":0.678,"v":0.028},{"s":"0.4000","r":0.678,"v":0.033},{"s":"0.4000","r":0.678,"v":0.038},{"s":"0.4000","r":0.678,"v":0.043},{"s":"0.4000","r":0.679,"v":0.048},{"s":"0.4000","r":0.679,"v":0.053},{"s":"0.4000","r":0.679,"v":0.058},{"s":"0.4000","r":0.679,"v":0.063},{"s":"0.4000","r":0.679,"v":0.068},{"s":"0.4000","r":0.679,"v":0.073},{"s":"0.4000","r":0.679,"v":0.078},{"s":"0.4000","r":0.679,"v":0.083},{"s":"0.4000","r":0.68,"v":0.088},{"s":"0.4000","r":0.68,"v":0.093},{"s":"0.4000","r":0.68,"v":0.098},{"s":"0.4000","r":0.68,"v":0.103},{"s":"0.4000","r":0.68,"v":0.108},{"s":"0.4000","r":0.68,"v":0.113},{"s":"0.4000","r":0.68,"v":0.118},{"s":"0.4000","r":0.68,"v":0.123},{"s":"0.4000","r":0.68,"v":0.128},{"s":"0.4000","r":0.68,"v":0.133},{"s":"0.4000","r":0.682,"v":0.002},{"s":"0.4000","r":0.72,"v":0}
    ],
    "inset": [
      {"s":"0.3475","r":0,"v":0.33},{"s":"0.3475","r":0.0006,"v":0.45},{"s":"0.3475","r":0.001,"v":0.5},{"s":"0.3475","r":0.0015,"v":0.35},{"s":"0.3475","r":0.002,"v":0},{"s":"0.3475","r":0.0025,"v":-0.5},{"s":"0.3475","r":0.003,"v":-0.88},{"s":"0.3475","r":0.0035,"v":-0.98},{"s":"0.3475","r":0.004,"v":-0.95},{"s":"0.3475","r":0.0048,"v":-0.8},{"s":"0.3475","r":0.0058,"v":-0.62},{"s":"0.3475","r":0.007,"v":-0.48},{"s":"0.3475","r":0.008,"v":-0.38},{"s":"0.3475","r":0.0095,"v":-0.28},{"s":"0.3475","r":0.011,"v":-0.21},{"s":"0.3475","r":0.013,"v":-0.16},{"s":"0.3475","r":0.0145,"v":-0.13},{"s":"0.3475","r":0.016,"v":-0.11},{"s":"0.3475","r":0.018,"v":-0.09},{"s":"0.3475","r":0.02,"v":-0.075},{"s":"0.3475","r":0.022,"v":-0.06},{"s":"0.3475","r":0.025,"v":-0.045},{"s":"0.3475","r":0.029,"v":-0.032},{"s":"0.3475","r":0.033,"v":-0.022},{"s":"0.3475","r":0.0365,"v":-0.014},{"s":"0.3475","r":0.04,"v":-0.009},{"s":"0.3475","r":0.045,"v":-0.004},{"s":"0.3475","r":0.05,"v":-0.002}
    ],
    "box": [{"r":0,"r2":0.05,"v":-1.01,"v2":0.55}]
  },
  "concat": [
    {
      "width": 212, "height": 194,
      "title": {"text": "(a)", "dx": 15, "dy": 24},
      "data": {"name": "a"},
      "encoding": {
        "x": {"field": "r", "type": "quantitative", "scale": {"domain": [0, 0.75], "nice": false, "zero": false}, "axis": {"title": "r", "values": [0,0.05,0.1,0.15,0.2,0.25,0.3,0.35,0.4,0.45,0.5,0.55,0.6,0.65,0.7,0.75], "labelExpr": "abs(datum.value*4-round(datum.value*4))<1e-6 ? (datum.value==0 ? '0' : format(datum.value,'.2f')) : ''", "tickSize": {"condition": {"test": "abs(datum.value*4-round(datum.value*4))<1e-6", "value": -6}, "value": -3}}},
        "y": {"field": "v", "type": "quantitative", "scale": {"domain": [0.6, 2.5], "nice": false, "zero": false}, "axis": {"title": "ρ", "values": [0.6,0.8,1,1.2,1.4,1.6,1.8,2,2.2,2.4], "labelExpr": "abs(datum.value-round(datum.value))<1e-6 ? format(datum.value,'d') : ''", "tickSize": {"condition": {"test": "abs(datum.value-round(datum.value))<1e-6", "value": -6}, "value": -3}}}
      },
      "layer": [
        {"transform": [{"filter": "datum.s == '0'"}], "mark": {"type": "line", "interpolate": "step-after", "strokeWidth": 1.2}, "encoding": {"color": {"field": "s", "type": "nominal", "scale": {"domain": ["0","0.1850","0.3000","0.3475","0.4000"], "range": ["#e8424a","#ff9a36","#55c455","#1a1a1a","#4a5cc4"]}, "legend": null}, "order": {"value": null}}},
        {"transform": [{"filter": "datum.s != '0'"}], "mark": {"type": "line", "strokeWidth": 1.2}, "encoding": {"color": {"field": "s", "type": "nominal", "scale": {"domain": ["0","0.1850","0.3000","0.3475","0.4000"], "range": ["#e8424a","#ff9a36","#55c455","#1a1a1a","#4a5cc4"]}, "legend": null}, "order": {"value": null}}},
        {"transform": [{"filter": "datum.s != '0.3475'"}], "mark": {"type": "point", "filled": false, "strokeWidth": 1.2, "opacity": 1}, "encoding": {"color": {"field": "s", "type": "nominal", "scale": {"domain": ["0","0.1850","0.3000","0.3475","0.4000"], "range": ["#e8424a","#ff9a36","#55c455","#1a1a1a","#4a5cc4"]}, "legend": null}, "shape": {"field": "s", "type": "nominal", "scale": {"domain": ["0","0.1850","0.3000","0.3475","0.4000"], "range": ["square","triangle-up","triangle-down","circle","circle"]}, "legend": null}, "size": {"field": "s", "type": "ordinal", "scale": {"domain": ["0","0.1850","0.3000","0.3475","0.4000"], "range": [45,75,75,0,95]}, "legend": null}}},
        {"transform": [{"filter": "false"}], "mark": {"type": "point", "filled": false, "strokeWidth": 1.3}, "encoding": {
          "color": {"field": "s", "type": "nominal", "scale": {"domain": ["0","0.1850","0.3000","0.3475","0.4000"], "range": ["#e8424a","#ff9a36","#55c455","#1a1a1a","#4a5cc4"]}, "legend": {"title": null, "orient": "none", "legendX": 72, "legendY": 7, "labelExpr": "'t = ' + datum.label", "symbolSize": 1024, "clipHeight": 16, "rowPadding": 2.2, "labelFontSize": 15}},
          "shape": {"field": "s", "type": "nominal", "scale": {"domain": ["0","0.1850","0.3000","0.3475","0.4000"], "range": ["M-1,0H-0.22M0.22,0H1M-0.22,-0.22H0.22V0.22H-0.22Z","M-1,0H-0.16M0.16,0H1M0,-0.28L0.27,0.2L-0.27,0.2Z","M-1,0H-0.16M0.16,0H1M0,0.28L0.27,-0.2L-0.27,-0.2Z","M-1,0H1","M-1,0H-0.25M0.25,0H1M0.25,0A0.25,0.25,0,1,1,-0.25,0A0.25,0.25,0,1,1,0.25,0Z"]}, "legend": {"title": null, "orient": "none", "legendX": 72, "legendY": 7, "labelExpr": "'t = ' + datum.label", "symbolSize": 1024, "clipHeight": 16, "rowPadding": 2.2, "labelFontSize": 15}}}}
      ],
      "resolve": {"scale": {"color": "independent", "shape": "independent"}}
    },
    {
      "width": 212, "height": 194,
      "title": {"text": "(b)", "dx": 20, "dy": 24},
      "data": {"name": "b"},
      "encoding": {
        "x": {"field": "r", "type": "quantitative", "scale": {"domain": [0, 0.75], "nice": false, "zero": false}, "axis": {"title": "r", "values": [0,0.05,0.1,0.15,0.2,0.25,0.3,0.35,0.4,0.45,0.5,0.55,0.6,0.65,0.7,0.75], "labelExpr": "abs(datum.value*4-round(datum.value*4))<1e-6 ? (datum.value==0 ? '0' : format(datum.value,'.2f')) : ''", "tickSize": {"condition": {"test": "abs(datum.value*4-round(datum.value*4))<1e-6", "value": -6}, "value": -3}}},
        "y": {"field": "v", "type": "quantitative", "scale": {"domain": [1, 4], "nice": false, "zero": false}, "axis": {"title": "T", "values": [1,1.5,2,2.5,3,3.5,4], "labelExpr": "abs(datum.value-round(datum.value))<1e-6 ? format(datum.value,'d') : ''", "tickSize": {"condition": {"test": "abs(datum.value-round(datum.value))<1e-6", "value": -6}, "value": -3}}}
      },
      "layer": [
        {"transform": [{"filter": "datum.s == '0'"}], "mark": {"type": "line", "interpolate": "step-after", "strokeWidth": 1.2}, "encoding": {"color": {"field": "s", "type": "nominal", "scale": {"domain": ["0","0.1850","0.3000","0.3475","0.4000"], "range": ["#e8424a","#ff9a36","#55c455","#1a1a1a","#4a5cc4"]}, "legend": null}, "order": {"value": null}}},
        {"transform": [{"filter": "datum.s != '0'"}], "mark": {"type": "line", "strokeWidth": 1.2}, "encoding": {"color": {"field": "s", "type": "nominal", "scale": {"domain": ["0","0.1850","0.3000","0.3475","0.4000"], "range": ["#e8424a","#ff9a36","#55c455","#1a1a1a","#4a5cc4"]}, "legend": null}, "order": {"value": null}}},
        {"transform": [{"filter": "datum.s != '0.3475'"}], "mark": {"type": "point", "filled": false, "strokeWidth": 1.2, "opacity": 1}, "encoding": {"color": {"field": "s", "type": "nominal", "scale": {"domain": ["0","0.1850","0.3000","0.3475","0.4000"], "range": ["#e8424a","#ff9a36","#55c455","#1a1a1a","#4a5cc4"]}, "legend": null}, "shape": {"field": "s", "type": "nominal", "scale": {"domain": ["0","0.1850","0.3000","0.3475","0.4000"], "range": ["square","triangle-up","triangle-down","circle","circle"]}, "legend": null}, "size": {"field": "s", "type": "ordinal", "scale": {"domain": ["0","0.1850","0.3000","0.3475","0.4000"], "range": [45,75,75,0,95]}, "legend": null}}},
        {"transform": [{"filter": "false"}], "mark": {"type": "point", "filled": false, "strokeWidth": 1.3}, "encoding": {
          "color": {"field": "s", "type": "nominal", "scale": {"domain": ["0","0.1850","0.3000","0.3475","0.4000"], "range": ["#e8424a","#ff9a36","#55c455","#1a1a1a","#4a5cc4"]}, "legend": {"title": null, "orient": "none", "legendX": 89, "legendY": 6, "labelExpr": "'t = ' + datum.label", "symbolSize": 1024, "clipHeight": 16, "rowPadding": 2.2, "labelFontSize": 15}},
          "shape": {"field": "s", "type": "nominal", "scale": {"domain": ["0","0.1850","0.3000","0.3475","0.4000"], "range": ["M-1,0H-0.22M0.22,0H1M-0.22,-0.22H0.22V0.22H-0.22Z","M-1,0H-0.16M0.16,0H1M0,-0.28L0.27,0.2L-0.27,0.2Z","M-1,0H-0.16M0.16,0H1M0,0.28L0.27,-0.2L-0.27,-0.2Z","M-1,0H1","M-1,0H-0.25M0.25,0H1M0.25,0A0.25,0.25,0,1,1,-0.25,0A0.25,0.25,0,1,1,0.25,0Z"]}, "legend": {"title": null, "orient": "none", "legendX": 89, "legendY": 6, "labelExpr": "'t = ' + datum.label", "symbolSize": 1024, "clipHeight": 16, "rowPadding": 2.2, "labelFontSize": 15}}}}
      ],
      "resolve": {"scale": {"color": "independent", "shape": "independent"}}
    },
    {
      "width": 212, "height": 194,
      "title": {"text": "(c)", "dx": 17, "dy": 24},
      "data": {"name": "c"},
      "encoding": {
        "x": {"field": "r", "type": "quantitative", "scale": {"domain": [0, 0.75], "nice": false, "zero": false}, "axis": {"title": "r", "values": [0,0.05,0.1,0.15,0.2,0.25,0.3,0.35,0.4,0.45,0.5,0.55,0.6,0.65,0.7,0.75], "labelExpr": "abs(datum.value*4-round(datum.value*4))<1e-6 ? (datum.value==0 ? '0' : format(datum.value,'.2f')) : ''", "tickSize": {"condition": {"test": "abs(datum.value*4-round(datum.value*4))<1e-6", "value": -6}, "value": -3}}},
        "y": {"field": "v", "type": "quantitative", "scale": {"domain": [1, 6], "nice": false, "zero": false}, "axis": {"title": "P", "values": [1,1.5,2,2.5,3,3.5,4,4.5,5,5.5,6], "labelExpr": "abs(datum.value/2-round(datum.value/2))<1e-6 ? format(datum.value,'d') : ''", "tickSize": {"condition": {"test": "abs(datum.value/2-round(datum.value/2))<1e-6", "value": -6}, "value": -3}}}
      },
      "layer": [
        {"transform": [{"filter": "datum.s == '0'"}], "mark": {"type": "line", "interpolate": "step-after", "strokeWidth": 1.2}, "encoding": {"color": {"field": "s", "type": "nominal", "scale": {"domain": ["0","0.1850","0.3000","0.3475","0.4000"], "range": ["#e8424a","#ff9a36","#55c455","#1a1a1a","#4a5cc4"]}, "legend": null}, "order": {"value": null}}},
        {"transform": [{"filter": "datum.s != '0'"}], "mark": {"type": "line", "strokeWidth": 1.2}, "encoding": {"color": {"field": "s", "type": "nominal", "scale": {"domain": ["0","0.1850","0.3000","0.3475","0.4000"], "range": ["#e8424a","#ff9a36","#55c455","#1a1a1a","#4a5cc4"]}, "legend": null}, "order": {"value": null}}},
        {"transform": [{"filter": "datum.s != '0.3475'"}], "mark": {"type": "point", "filled": false, "strokeWidth": 1.2, "opacity": 1}, "encoding": {"color": {"field": "s", "type": "nominal", "scale": {"domain": ["0","0.1850","0.3000","0.3475","0.4000"], "range": ["#e8424a","#ff9a36","#55c455","#1a1a1a","#4a5cc4"]}, "legend": null}, "shape": {"field": "s", "type": "nominal", "scale": {"domain": ["0","0.1850","0.3000","0.3475","0.4000"], "range": ["square","triangle-up","triangle-down","circle","circle"]}, "legend": null}, "size": {"field": "s", "type": "ordinal", "scale": {"domain": ["0","0.1850","0.3000","0.3475","0.4000"], "range": [45,75,75,0,95]}, "legend": null}}},
        {"transform": [{"filter": "false"}], "mark": {"type": "point", "filled": false, "strokeWidth": 1.3}, "encoding": {
          "color": {"field": "s", "type": "nominal", "scale": {"domain": ["0","0.1850","0.3000","0.3475","0.4000"], "range": ["#e8424a","#ff9a36","#55c455","#1a1a1a","#4a5cc4"]}, "legend": {"title": null, "orient": "none", "legendX": 91, "legendY": 5, "labelExpr": "'t = ' + datum.label", "symbolSize": 1024, "clipHeight": 16, "rowPadding": 2.2, "labelFontSize": 15}},
          "shape": {"field": "s", "type": "nominal", "scale": {"domain": ["0","0.1850","0.3000","0.3475","0.4000"], "range": ["M-1,0H-0.22M0.22,0H1M-0.22,-0.22H0.22V0.22H-0.22Z","M-1,0H-0.16M0.16,0H1M0,-0.28L0.27,0.2L-0.27,0.2Z","M-1,0H-0.16M0.16,0H1M0,0.28L0.27,-0.2L-0.27,-0.2Z","M-1,0H1","M-1,0H-0.25M0.25,0H1M0.25,0A0.25,0.25,0,1,1,-0.25,0A0.25,0.25,0,1,1,0.25,0Z"]}, "legend": {"title": null, "orient": "none", "legendX": 91, "legendY": 5, "labelExpr": "'t = ' + datum.label", "symbolSize": 1024, "clipHeight": 16, "rowPadding": 2.2, "labelFontSize": 15}}}}
      ],
      "resolve": {"scale": {"color": "independent", "shape": "independent"}}
    },
    {
      "width": 212, "height": 194,
      "title": {"text": "(d)", "dx": 10, "dy": 27},
      "data": {"name": "d"},
      "encoding": {
        "x": {"field": "r", "type": "quantitative", "scale": {"domain": [0, 0.75], "nice": false, "zero": false}, "axis": {"title": "r", "values": [0,0.05,0.1,0.15,0.2,0.25,0.3,0.35,0.4,0.45,0.5,0.55,0.6,0.65,0.7,0.75], "labelExpr": "abs(datum.value*4-round(datum.value*4))<1e-6 ? (datum.value==0 ? '0' : format(datum.value,'.2f')) : ''", "tickSize": {"condition": {"test": "abs(datum.value*4-round(datum.value*4))<1e-6", "value": -6}, "value": -3}}},
        "y": {"field": "v", "type": "quantitative", "scale": {"domain": [-1.02, 0.88], "nice": false, "zero": false}, "axis": {"title": "uᵣ", "values": [-1,-0.9,-0.8,-0.7,-0.6,-0.5,-0.4,-0.3,-0.2,-0.1,0,0.1,0.2,0.3,0.4,0.5,0.6,0.7,0.8], "labelExpr": "abs(datum.value*2-round(datum.value*2))<1e-6 ? (abs(datum.value)<1e-6 ? '0' : format(datum.value,'.1f')) : ''", "tickSize": {"condition": {"test": "abs(datum.value*2-round(datum.value*2))<1e-6", "value": -6}, "value": -3}}}
      },
      "layer": [
        {"transform": [{"filter": "datum.s == '0'"}], "mark": {"type": "line", "interpolate": "step-after", "strokeWidth": 1.2}, "encoding": {"color": {"field": "s", "type": "nominal", "scale": {"domain": ["0","0.1850","0.3000","0.3475","0.4000"], "range": ["#e8424a","#ff9a36","#55c455","#1a1a1a","#4a5cc4"]}, "legend": null}, "order": {"value": null}}},
        {"transform": [{"filter": "datum.s != '0'"}], "mark": {"type": "line", "strokeWidth": 1.2}, "encoding": {"color": {"field": "s", "type": "nominal", "scale": {"domain": ["0","0.1850","0.3000","0.3475","0.4000"], "range": ["#e8424a","#ff9a36","#55c455","#1a1a1a","#4a5cc4"]}, "legend": null}, "order": {"value": null}}},
        {"transform": [{"filter": "datum.s != '0.3475'"}], "mark": {"type": "point", "filled": false, "strokeWidth": 1.2, "opacity": 1}, "encoding": {"color": {"field": "s", "type": "nominal", "scale": {"domain": ["0","0.1850","0.3000","0.3475","0.4000"], "range": ["#e8424a","#ff9a36","#55c455","#1a1a1a","#4a5cc4"]}, "legend": null}, "shape": {"field": "s", "type": "nominal", "scale": {"domain": ["0","0.1850","0.3000","0.3475","0.4000"], "range": ["square","triangle-up","triangle-down","circle","circle"]}, "legend": null}, "size": {"field": "s", "type": "ordinal", "scale": {"domain": ["0","0.1850","0.3000","0.3475","0.4000"], "range": [45,75,75,0,95]}, "legend": null}}},
        {"transform": [{"filter": "false"}], "mark": {"type": "point", "filled": false, "strokeWidth": 1.3}, "encoding": {
          "color": {"field": "s", "type": "nominal", "scale": {"domain": ["0","0.1850","0.3000","0.3475","0.4000"], "range": ["#e8424a","#ff9a36","#55c455","#1a1a1a","#4a5cc4"]}, "legend": {"title": null, "orient": "none", "legendX": 89, "legendY": 103, "labelExpr": "'t = ' + datum.label", "symbolSize": 1024, "clipHeight": 16, "rowPadding": 1.5, "labelFontSize": 15}},
          "shape": {"field": "s", "type": "nominal", "scale": {"domain": ["0","0.1850","0.3000","0.3475","0.4000"], "range": ["M-1,0H-0.22M0.22,0H1M-0.22,-0.22H0.22V0.22H-0.22Z","M-1,0H-0.16M0.16,0H1M0,-0.28L0.27,0.2L-0.27,0.2Z","M-1,0H-0.16M0.16,0H1M0,0.28L0.27,-0.2L-0.27,-0.2Z","M-1,0H1","M-1,0H-0.25M0.25,0H1M0.25,0A0.25,0.25,0,1,1,-0.25,0A0.25,0.25,0,1,1,0.25,0Z"]}, "legend": {"title": null, "orient": "none", "legendX": 89, "legendY": 103, "labelExpr": "'t = ' + datum.label", "symbolSize": 1024, "clipHeight": 16, "rowPadding": 1.5, "labelFontSize": 15}}}}
      ],
      "resolve": {"scale": {"color": "independent", "shape": "independent"}}
    },
    {
      "width": 212, "height": 194,
      "title": {"text": "(e)", "dx": 19, "dy": 27},
      "data": {"name": "e"},
      "encoding": {
        "x": {"field": "r", "type": "quantitative", "scale": {"domain": [0, 0.75], "nice": false, "zero": false}, "axis": {"title": "r", "values": [0,0.05,0.1,0.15,0.2,0.25,0.3,0.35,0.4,0.45,0.5,0.55,0.6,0.65,0.7,0.75], "labelExpr": "abs(datum.value*4-round(datum.value*4))<1e-6 ? (datum.value==0 ? '0' : format(datum.value,'.2f')) : ''", "tickSize": {"condition": {"test": "abs(datum.value*4-round(datum.value*4))<1e-6", "value": -6}, "value": -3}}},
        "y": {"field": "v", "type": "quantitative", "scale": {"domain": [0, 1], "nice": false, "zero": false}, "axis": {"title": "λ", "values": [0,0.1,0.2,0.3,0.4,0.5,0.6,0.7,0.8,0.9,1], "labelExpr": "abs(datum.value*5-round(datum.value*5))<1e-6 ? (datum.value==0 ? '0' : format(datum.value,'.1f')) : ''", "tickSize": {"condition": {"test": "abs(datum.value*5-round(datum.value*5))<1e-6", "value": -6}, "value": -3}}}
      },
      "layer": [
        {"transform": [{"filter": "datum.s == '0'"}], "mark": {"type": "line", "interpolate": "step-after", "strokeWidth": 1.2}, "encoding": {"color": {"field": "s", "type": "nominal", "scale": {"domain": ["0","0.1850","0.3000","0.3475","0.4000"], "range": ["#e8424a","#ff9a36","#55c455","#1a1a1a","#4a5cc4"]}, "legend": null}, "order": {"value": null}}},
        {"transform": [{"filter": "datum.s != '0'"}], "mark": {"type": "line", "strokeWidth": 1.2}, "encoding": {"color": {"field": "s", "type": "nominal", "scale": {"domain": ["0","0.1850","0.3000","0.3475","0.4000"], "range": ["#e8424a","#ff9a36","#55c455","#1a1a1a","#4a5cc4"]}, "legend": null}, "order": {"value": null}}},
        {"transform": [{"filter": "datum.s != '0.3475'"}], "mark": {"type": "point", "filled": false, "strokeWidth": 1.2, "opacity": 1}, "encoding": {"color": {"field": "s", "type": "nominal", "scale": {"domain": ["0","0.1850","0.3000","0.3475","0.4000"], "range": ["#e8424a","#ff9a36","#55c455","#1a1a1a","#4a5cc4"]}, "legend": null}, "shape": {"field": "s", "type": "nominal", "scale": {"domain": ["0","0.1850","0.3000","0.3475","0.4000"], "range": ["square","triangle-up","triangle-down","circle","circle"]}, "legend": null}, "size": {"field": "s", "type": "ordinal", "scale": {"domain": ["0","0.1850","0.3000","0.3475","0.4000"], "range": [45,75,75,0,95]}, "legend": null}}},
        {"transform": [{"filter": "false"}], "mark": {"type": "point", "filled": false, "strokeWidth": 1.3}, "encoding": {
          "color": {"field": "s", "type": "nominal", "scale": {"domain": ["0","0.1850","0.3000","0.3475","0.4000"], "range": ["#e8424a","#ff9a36","#55c455","#1a1a1a","#4a5cc4"]}, "legend": {"title": null, "orient": "none", "legendX": 43, "legendY": 64, "labelExpr": "'t = ' + datum.label", "symbolSize": 784, "clipHeight": 15, "rowPadding": 1.25, "labelFontSize": 13}},
          "shape": {"field": "s", "type": "nominal", "scale": {"domain": ["0","0.1850","0.3000","0.3475","0.4000"], "range": ["M-1,0H-0.22M0.22,0H1M-0.22,-0.22H0.22V0.22H-0.22Z","M-1,0H-0.16M0.16,0H1M0,-0.28L0.27,0.2L-0.27,0.2Z","M-1,0H-0.16M0.16,0H1M0,0.28L0.27,-0.2L-0.27,-0.2Z","M-1,0H1","M-1,0H-0.25M0.25,0H1M0.25,0A0.25,0.25,0,1,1,-0.25,0A0.25,0.25,0,1,1,0.25,0Z"]}, "legend": {"title": null, "orient": "none", "legendX": 43, "legendY": 64, "labelExpr": "'t = ' + datum.label", "symbolSize": 784, "clipHeight": 15, "rowPadding": 1.25, "labelFontSize": 13}}}}
      ],
      "resolve": {"scale": {"color": "independent", "shape": "independent"}}
    },
    {
      "width": 212, "height": 194,
      "title": {"text": "(f)", "dx": 10, "dy": 24},
      "layer": [
        {
          "data": {"name": "f"},
          "encoding": {
            "x": {"field": "r", "type": "quantitative", "scale": {"domain": [0, 0.75], "nice": false, "zero": false}, "axis": {"title": "r", "values": [0,0.05,0.1,0.15,0.2,0.25,0.3,0.35,0.4,0.45,0.5,0.55,0.6,0.65,0.7,0.75], "labelExpr": "abs(datum.value*4-round(datum.value*4))<1e-6 ? (datum.value==0 ? '0' : format(datum.value,'.2f')) : ''", "tickSize": {"condition": {"test": "abs(datum.value*4-round(datum.value*4))<1e-6", "value": -6}, "value": -3}}},
            "y": {"field": "v", "type": "quantitative", "scale": {"domain": [-0.0097, 0.137], "nice": false, "zero": false}, "axis": {"title": "Δ*₂,ᵣᵣ", "values": [0,0.01,0.02,0.03,0.04,0.05,0.06,0.07,0.08,0.09,0.1,0.11,0.12,0.13], "labelExpr": "abs(datum.value*20-round(datum.value*20))<1e-6 ? (datum.value==0 ? '0' : format(datum.value,'.2f')) : ''", "tickSize": {"condition": {"test": "abs(datum.value*20-round(datum.value*20))<1e-6", "value": -6}, "value": -3}}}
          },
          "layer": [
            {"transform": [{"filter": "datum.s == '0'"}], "mark": {"type": "line", "interpolate": "step-after", "strokeWidth": 1.2}, "encoding": {"color": {"field": "s", "type": "nominal", "scale": {"domain": ["0","0.1850","0.3000","0.3475","0.4000"], "range": ["#e8424a","#ff9a36","#55c455","#1a1a1a","#4a5cc4"]}, "legend": null}, "order": {"value": null}}},
            {"transform": [{"filter": "datum.s != '0'"}], "mark": {"type": "line", "strokeWidth": 1.2}, "encoding": {"color": {"field": "s", "type": "nominal", "scale": {"domain": ["0","0.1850","0.3000","0.3475","0.4000"], "range": ["#e8424a","#ff9a36","#55c455","#1a1a1a","#4a5cc4"]}, "legend": null}, "order": {"value": null}}},
            {"transform": [{"filter": "datum.s != '0.3475'"}], "mark": {"type": "point", "filled": false, "strokeWidth": 1.2, "opacity": 1}, "encoding": {"color": {"field": "s", "type": "nominal", "scale": {"domain": ["0","0.1850","0.3000","0.3475","0.4000"], "range": ["#e8424a","#ff9a36","#55c455","#1a1a1a","#4a5cc4"]}, "legend": null}, "shape": {"field": "s", "type": "nominal", "scale": {"domain": ["0","0.1850","0.3000","0.3475","0.4000"], "range": ["square","triangle-up","triangle-down","circle","circle"]}, "legend": null}, "size": {"field": "s", "type": "ordinal", "scale": {"domain": ["0","0.1850","0.3000","0.3475","0.4000"], "range": [45,75,75,0,95]}, "legend": null}}},
            {"transform": [{"filter": "false"}], "mark": {"type": "point", "filled": false, "strokeWidth": 1.3}, "encoding": {
              "color": {"field": "s", "type": "nominal", "scale": {"domain": ["0","0.1850","0.3000","0.4000"], "range": ["#e8424a","#ff9a36","#55c455","#4a5cc4"]}, "legend": {"title": null, "orient": "none", "legendX": 73, "legendY": 115, "labelExpr": "'t = ' + datum.label", "symbolSize": 729, "clipHeight": 13, "rowPadding": 1.4, "labelFontSize": 13}},
              "shape": {"field": "s", "type": "nominal", "scale": {"domain": ["0","0.1850","0.3000","0.4000"], "range": ["M-1,0H-0.22M0.22,0H1M-0.22,-0.22H0.22V0.22H-0.22Z","M-1,0H-0.16M0.16,0H1M0,-0.28L0.27,0.2L-0.27,0.2Z","M-1,0H-0.16M0.16,0H1M0,0.28L0.27,-0.2L-0.27,-0.2Z","M-1,0H-0.25M0.25,0H1M0.25,0A0.25,0.25,0,1,1,-0.25,0A0.25,0.25,0,1,1,0.25,0Z"]}, "legend": {"title": null, "orient": "none", "legendX": 73, "legendY": 115, "labelExpr": "'t = ' + datum.label", "symbolSize": 729, "clipHeight": 13, "rowPadding": 1.4, "labelFontSize": 13}}}}
          ],
          "resolve": {"scale": {"color": "independent", "shape": "independent"}}
        },
        {
          "encoding": {
            "x": {"field": "r", "type": "quantitative", "scale": {"domain": [0, 0.05], "range": [57, 175], "nice": false, "zero": false}, "axis": {"orient": "bottom", "offset": -101, "title": null, "values": [0, 0.025, 0.05], "labelExpr": "datum.value==0 ? '0' : format(datum.value,'.3f')", "tickSize": -3, "labelPadding": 7, "labelFontSize": 10.5, "zindex": 1}},
            "y": {"field": "v", "type": "quantitative", "scale": {"domain": [-1.01, 0.55], "range": [93, 7], "nice": false, "zero": false}, "axis": {"orient": "left", "offset": -57, "title": null, "values": [-1, -0.5, 0, 0.5], "labelExpr": "abs(datum.value)<1e-6 ? '0' : format(datum.value,'.1f')", "tickSize": -3, "labelPadding": 7, "labelFontSize": 10.5, "zindex": 1}}
          },
          "layer": [
            {"data": {"name": "box"}, "mark": {"type": "rect", "fill": "white", "stroke": "black", "strokeWidth": 1}, "encoding": {"x2": {"field": "r2"}, "y2": {"field": "v2"}}},
            {"data": {"name": "inset"}, "mark": {"type": "line", "strokeWidth": 1.3}, "encoding": {"color": {"field": "s", "type": "nominal", "scale": {"domain": ["0.3475"], "range": ["#1a1a1a"]}, "legend": {"title": null, "orient": "none", "legendX": 81, "legendY": 12, "symbolType": "stroke", "symbolSize": 784, "clipHeight": 12, "labelExpr": "'t = ' + datum.label", "labelFontSize": 12}}, "order": {"value": null}}}
          ]
        }
      ],
      "resolve": {"scale": {"x": "independent", "y": "independent", "color": "independent"}}
    }
  ]
}
